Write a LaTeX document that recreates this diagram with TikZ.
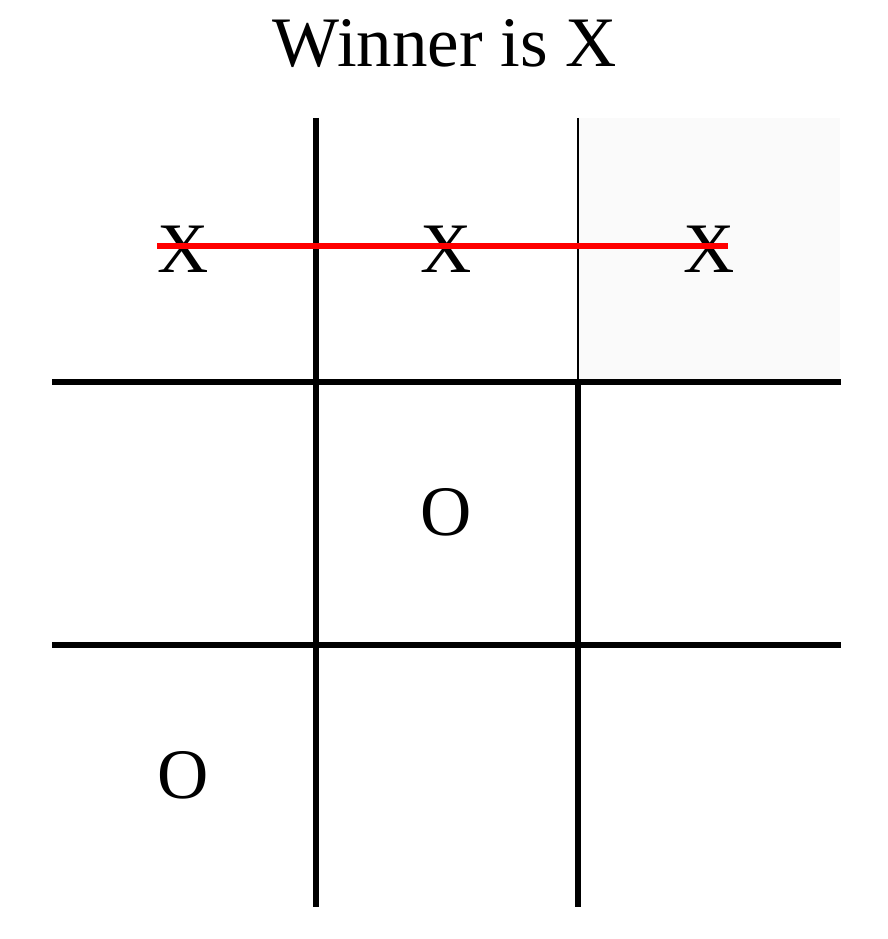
\documentclass[tikz,border=0pt]{standalone}
\usepackage{fontspec}
\setmainfont{Liberation Serif}
\usepackage{tikz}
\definecolor{cellgray}{RGB}{250, 250, 250}
\definecolor{winred}{RGB}{255, 0, 0}

\begin{document}
\begin{tikzpicture}[x=1pt, y=-1pt,
    piece/.style={inner sep=0pt, font=\fontsize{71}{80}\selectfont},
    gridline/.style={black, line width=6pt}]
    \useasboundingbox (0,0) rectangle (888,939);

    %% title
    \node[piece, anchor=base] (title) at (445, 67) {Winner is X};

    %% highlighted cell
    \fill[cellgray] (578,118) rectangle (840,382);

    %% grid
    \draw[gridline] (316,118) -- (316,907);
    \draw[black, line width=1.5pt] (578,118) -- (578,382);
    \draw[gridline] (578,382) -- (578,907);
    \draw[gridline] (52,382) -- (841,382);
    \draw[gridline] (52,645) -- (841,645);

    %% moves
    \node[piece] (x1) at (183, 249) {X};
    \node[piece] (x2) at (446, 249) {X};
    \node[piece] (x3) at (709, 249) {X};
    \node[piece] (o1) at (446, 512) {O};
    \node[piece] (o2) at (183, 775) {O};

    %% winning row
    \draw[winred, line width=6pt, shorten >=7pt] ([yshift=3pt]x1.west) -- ([yshift=3pt]x3.east);
\end{tikzpicture}
\end{document}
